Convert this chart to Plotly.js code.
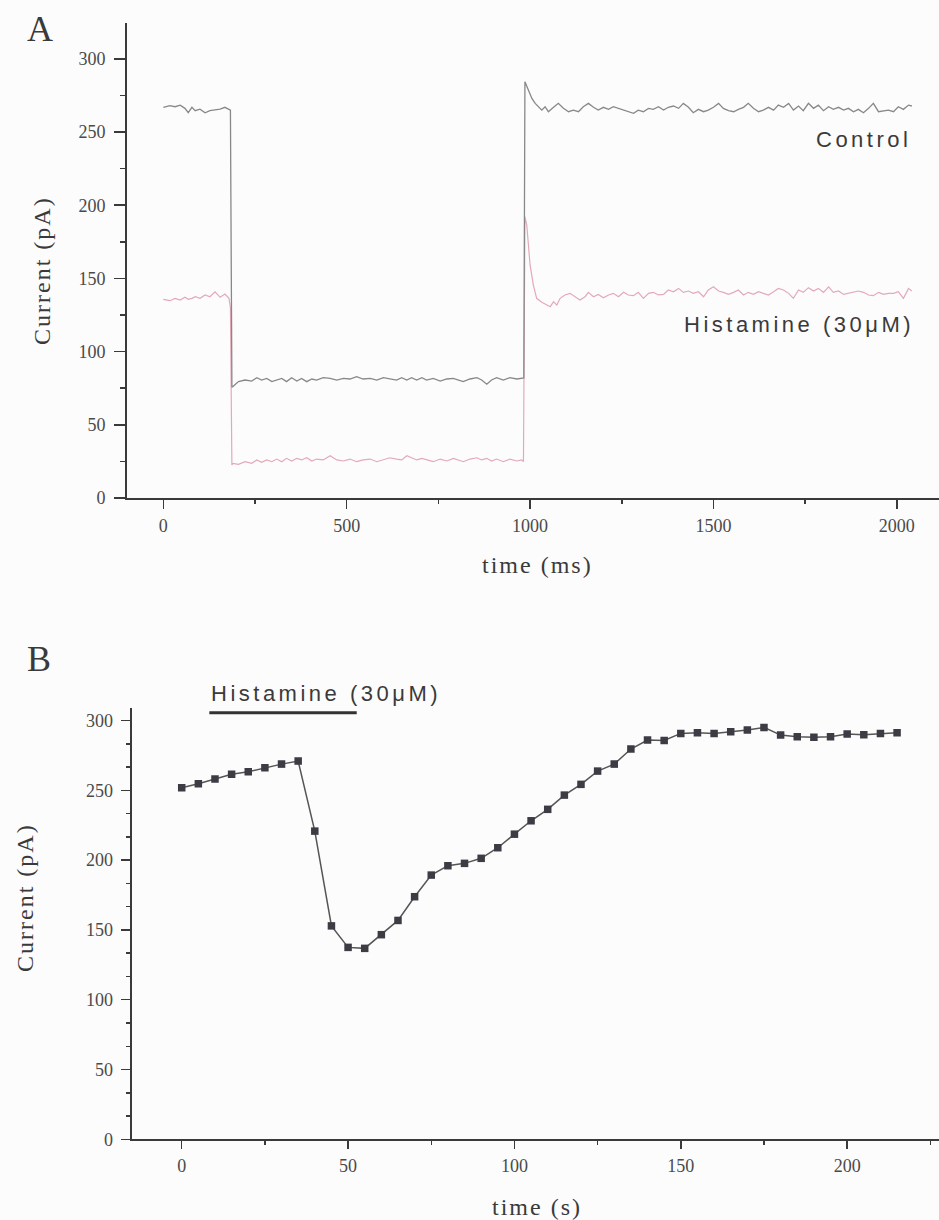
<!DOCTYPE html>
<html>
<head>
<meta charset="utf-8">
<script src="https://cdn.plot.ly/plotly-3.0.1.min.js"></script>
<style>
  html, body { margin: 0; padding: 0; background: #fcfcfc; }
  #chart { width: 939px; height: 1220px; }
</style>
</head>
<body>
<div id="chart"></div>
<script>
// ---------- Panel A: current traces (time in ms, current in pA) ----------
// Holding segment before the step
const tPre = [0, 18, 32, 46, 59, 68, 78, 87, 100, 114, 127, 141, 155, 168, 179];
const controlPre = [266.9, 268.0, 267.3, 268.4, 266.2, 263.2, 266.9, 264.6, 265.6, 263.2, 264.6, 265.1, 265.6, 266.9, 265.6];
const histaminePre = [135.7, 134.8, 136.4, 135.2, 137.1, 135.7, 136.4, 137.5, 136.4, 138.7, 137.5, 140.9, 137.1, 139.3, 136.4];

// Step onset
const tControlDrop = [183, 187];
const controlDrop = [265.0, 76.0];
const tHistamineDrop = [183, 187];
const histamineDrop = [130.0, 22.5];

// Low segment during the step
const tLow = [189, 205, 223, 241, 255, 268, 282, 296, 309, 323, 336, 350, 364, 377, 391, 405, 418, 436, 455, 473,
  491, 509, 527, 545, 564, 582, 600, 618, 636, 650, 664, 677, 691, 705, 718, 736, 755, 773, 791, 805,
  818, 836, 855, 868, 882, 895, 909, 927, 945, 964, 977];
const controlLow = [76.0, 79.5, 80.6, 79.9, 82.2, 80.6, 81.7, 79.5, 80.6, 81.7, 79.5, 82.2, 79.9, 81.7, 79.5, 81.3, 80.6, 82.2, 81.7, 80.6,
  81.7, 81.3, 82.9, 81.3, 81.7, 80.6, 82.2, 81.3, 80.6, 82.2, 80.6, 82.2, 80.6, 82.2, 80.6, 81.7, 79.9, 81.3, 81.7, 80.6,
  79.5, 81.3, 82.2, 80.6, 77.7, 80.6, 82.2, 80.6, 82.2, 81.3, 81.7];
const histamineLow = [23.7, 23.0, 24.8, 23.7, 26.0, 24.4, 26.0, 24.8, 26.6, 24.8, 27.1, 25.3, 27.1, 26.0, 27.5, 25.3, 26.6, 26.0, 28.9, 26.0,
  25.3, 26.6, 24.8, 26.0, 26.6, 24.8, 26.0, 27.5, 26.6, 26.0, 28.9, 27.5, 26.0, 27.1, 26.0, 24.8, 26.6, 25.3, 27.1, 26.0,
  24.8, 26.6, 27.5, 26.0, 27.1, 25.3, 26.6, 24.8, 26.6, 25.3, 26.0];

// Return to holding: tail transient
const tControlTail = [983, 986, 995, 1005, 1014, 1023, 1032, 1041, 1050, 1064, 1077, 1091, 1105, 1118, 1132, 1145];
const controlTail = [82.0, 284.4, 278.7, 273.0, 269.6, 267.3, 265.0, 267.3, 263.9, 266.9, 269.6, 266.2, 263.9, 265.0, 263.9, 267.3];
const tHistamineTail = [982, 986, 991, 995, 1000, 1009, 1018, 1032, 1045, 1055, 1064, 1073, 1082, 1095, 1109, 1123, 1136, 1150];
const histamineTail = [25.0, 192.2, 186.5, 172.8, 159.2, 145.5, 136.4, 133.7, 131.8, 130.7, 134.1, 131.8, 136.4, 138.7, 139.8, 137.5, 135.2, 137.5];

// Steady holding after the step
const tPost = [1159, 1173, 1186, 1200, 1214, 1227, 1241, 1255, 1268, 1282, 1295, 1309, 1323, 1336, 1350, 1364, 1377, 1391, 1405, 1418,
  1432, 1445, 1459, 1473, 1486, 1500, 1514, 1527, 1541, 1555, 1568, 1582, 1595, 1609, 1623, 1636, 1650, 1664, 1677, 1691,
  1705, 1718, 1732, 1745, 1759, 1773, 1786, 1800, 1814, 1827, 1841, 1855, 1868, 1882, 1895, 1909, 1923, 1936, 1950, 1964,
  1977, 1991, 2004, 2018, 2032, 2041];
const controlPost = [269.6, 266.9, 265.0, 266.9, 265.5, 267.3, 266.2, 265.0, 263.9, 262.8, 265.0, 263.9, 266.2, 265.5, 267.3, 265.0, 266.9, 267.8, 266.2, 269.6,
  266.9, 263.2, 265.5, 263.9, 265.0, 266.9, 269.6, 266.2, 264.6, 263.9, 265.5, 266.9, 269.6, 266.2, 263.9, 265.0, 266.9, 265.0, 268.4, 266.9,
  269.6, 265.0, 267.8, 264.6, 269.6, 266.2, 268.4, 264.6, 267.3, 265.5, 266.9, 265.0, 266.2, 263.9, 265.5, 263.2, 266.2, 269.6, 263.9, 264.6,
  265.0, 263.9, 267.3, 265.5, 268.4, 267.8];
const histaminePost = [140.5, 137.5, 139.1, 136.8, 138.7, 139.8, 137.5, 140.5, 138.7, 138.2, 140.5, 136.4, 139.8, 140.5, 138.7, 139.1, 142.1, 140.9, 143.2, 140.5,
  141.4, 139.8, 140.9, 137.5, 142.1, 144.3, 141.4, 140.5, 139.1, 140.5, 142.1, 138.7, 140.5, 139.1, 140.9, 139.8, 138.7, 140.9, 143.2, 142.1,
  139.8, 136.4, 142.1, 140.5, 143.7, 141.4, 143.2, 140.5, 144.3, 140.5, 141.4, 139.1, 139.8, 140.9, 141.4, 140.5, 138.7, 138.2, 140.5, 139.1,
  139.8, 139.8, 140.9, 136.4, 143.2, 141.4];

// ---------- Panel B: peak current over time (time in s, current in pA) ----------
const timeB = [0, 5, 10, 15, 20, 25, 30, 35, 40, 45, 50, 55, 60, 65, 70, 75, 80, 85, 90, 95,
  100, 105, 110, 115, 120, 125, 130, 135, 140, 145, 150, 155, 160, 165, 170, 175, 180, 185, 190, 195,
  200, 205, 210, 215];
const currentB = [251.9, 254.7, 258.1, 261.5, 263.3, 266.2, 268.8, 271.0, 220.8, 152.9, 137.5, 136.8, 146.6, 156.8, 173.8, 189.3, 196.0, 197.7, 201.3, 208.9,
  218.6, 228.2, 236.4, 246.6, 254.3, 263.8, 268.8, 279.6, 286.0, 285.8, 290.8, 291.3, 290.8, 292.0, 293.2, 295.1, 289.6, 288.4, 288.0, 288.4,
  290.3, 289.8, 290.8, 291.3];
// Histamine application period (s) and the level its bar is drawn at (pA)
const histamineWindow = [8.3, 52.6];
const histamineBarLevel = 305.6;

const traceLabels = ['Control', 'Histamine (30\u03bcM)'];

const SERIF = '"Liberation Serif", "Times New Roman", serif';
const SANS = '"Liberation Sans", Arial, sans-serif';
const INK = '#3a3a3a';

const spaced = (s, px) => '<span style="letter-spacing:' + px + 'px">' + s + '</span>';

const controlT = [].concat(tPre, tControlDrop, tLow, tControlTail, tPost);
const controlY = [].concat(controlPre, controlDrop, controlLow, controlTail, controlPost);
const histT = [].concat(tPre, tHistamineDrop, tLow, tHistamineTail, tPost);
const histY = [].concat(histaminePre, histamineDrop, histamineLow, histamineTail, histaminePost);

const traces = [
  { x: histT, y: histY, xaxis: 'x', yaxis: 'y', type: 'scatter', mode: 'lines',
    name: traceLabels[1], line: { color: '#e3a9b8', width: 1.2 }, hoverinfo: 'skip' },
  { x: controlT, y: controlY, xaxis: 'x', yaxis: 'y', type: 'scatter', mode: 'lines',
    name: traceLabels[0], line: { color: '#888888', width: 1.3 }, hoverinfo: 'skip' },
  { x: timeB, y: currentB, xaxis: 'x2', yaxis: 'y2', type: 'scatter', mode: 'lines+markers',
    name: 'Current', line: { color: '#555555', width: 1.5 },
    marker: { symbol: 'square', size: 7.5, color: '#3c3c44', line: { width: 0 } }, hoverinfo: 'skip' }
];

const axisCommon = {
  showgrid: false, zeroline: false, showline: true, linecolor: '#3a3a3a', linewidth: 2,
  ticks: 'outside', tickcolor: '#3a3a3a', tickwidth: 1.5,
  tickfont: { family: SERIF, size: 18, color: '#4a4a4a' }, fixedrange: true
};

const layout = {
  width: 939, height: 1220,
  margin: { l: 0, r: 0, t: 0, b: 0 },
  paper_bgcolor: '#fcfcfc', plot_bgcolor: '#fcfcfc',
  showlegend: false,
  xaxis: Object.assign({}, axisCommon, {
    domain: [127 / 939, 1], range: [-99, 2115], anchor: 'y',
    tickmode: 'linear', tick0: 0, dtick: 500, ticklen: 9, ticklabelstandoff: 1,
    minor: { dtick: 250, tick0: 0, ticks: 'outside', ticklen: 4, tickcolor: '#3a3a3a', tickwidth: 1.5 }
  }),
  yaxis: Object.assign({}, axisCommon, {
    domain: [1 - 498 / 1220, 1 - 23 / 1220], range: [0, 324.5], anchor: 'x',
    tickmode: 'linear', tick0: 0, dtick: 50, ticklen: 11, ticklabelstandoff: 5,
    minor: { dtick: 25, tick0: 0, ticks: 'outside', ticklen: 5, tickcolor: '#3a3a3a', tickwidth: 1.5 }
  }),
  xaxis2: Object.assign({}, axisCommon, {
    domain: [131.7 / 939, 1], range: [-15.03, 227.6], anchor: 'y2',
    tickmode: 'linear', tick0: 0, dtick: 50, ticklen: 8, ticklabelstandoff: 1,
    minor: { dtick: 25, tick0: 0, ticks: 'outside', ticklen: 4, tickcolor: '#3a3a3a', tickwidth: 1.5 }
  }),
  yaxis2: Object.assign({}, axisCommon, {
    domain: [1 - 1139.3 / 1220, 1 - 708 / 1220], range: [0, 309], anchor: 'x2',
    tickmode: 'linear', tick0: 0, dtick: 50, ticklen: 9, ticklabelstandoff: 4,
    minor: { dtick: 50 / 3, tick0: 0, ticks: 'outside', ticklen: 4, tickcolor: '#3a3a3a', tickwidth: 1.5 }
  }),
  shapes: [
    { type: 'line', xref: 'x2', yref: 'y2',
      x0: histamineWindow[0], x1: histamineWindow[1], y0: histamineBarLevel, y1: histamineBarLevel,
      line: { color: '#333333', width: 3 } }
  ],
  annotations: [
    // panel letters
    { text: 'A', xref: 'paper', yref: 'paper', x: 40 / 939, y: 1 - 29 / 1220, showarrow: false,
      xanchor: 'center', yanchor: 'middle', font: { family: SERIF, size: 36, color: INK } },
    { text: 'B', xref: 'paper', yref: 'paper', x: 39 / 939, y: 1 - 659 / 1220, showarrow: false,
      xanchor: 'center', yanchor: 'middle', font: { family: SERIF, size: 36, color: INK } },
    // axis titles, panel A
    { text: spaced('Current (pA)', 2), xref: 'paper', yref: 'paper', x: 42 / 939, y: 1 - 271 / 1220,
      textangle: -90, showarrow: false, xanchor: 'center', yanchor: 'middle',
      font: { family: SERIF, size: 24, color: INK } },
    { text: spaced('time (ms)', 2), xref: 'paper', yref: 'paper', x: 537 / 939, y: 1 - 565 / 1220,
      showarrow: false, xanchor: 'center', yanchor: 'middle',
      font: { family: SERIF, size: 24, color: INK } },
    // axis titles, panel B
    { text: spaced('Current (pA)', 2), xref: 'paper', yref: 'paper', x: 25 / 939, y: 1 - 898 / 1220,
      textangle: -90, showarrow: false, xanchor: 'center', yanchor: 'middle',
      font: { family: SERIF, size: 24, color: INK } },
    { text: spaced('time (s)', 2), xref: 'paper', yref: 'paper', x: 537 / 939, y: 1 - 1207 / 1220,
      showarrow: false, xanchor: 'center', yanchor: 'middle',
      font: { family: SERIF, size: 24, color: INK } },
    // trace labels, panel A
    { text: spaced(traceLabels[0], 3.5), xref: 'paper', yref: 'paper', x: 863 / 939, y: 1 - 139 / 1220,
      showarrow: false, xanchor: 'center', yanchor: 'middle',
      font: { family: SANS, size: 22, color: INK } },
    { text: spaced(traceLabels[1], 3.5), xref: 'paper', yref: 'paper', x: 799 / 939, y: 1 - 324 / 1220,
      showarrow: false, xanchor: 'center', yanchor: 'middle',
      font: { family: SANS, size: 22, color: INK } },
    // application label, panel B
    { text: spaced(traceLabels[1], 3.5), xref: 'paper', yref: 'paper', x: 326 / 939, y: 1 - 693 / 1220,
      showarrow: false, xanchor: 'center', yanchor: 'middle',
      font: { family: SANS, size: 22, color: INK } }
  ]
};

Plotly.newPlot('chart', traces, layout, { staticPlot: true, displayModeBar: false });
</script>
</body>
</html>
